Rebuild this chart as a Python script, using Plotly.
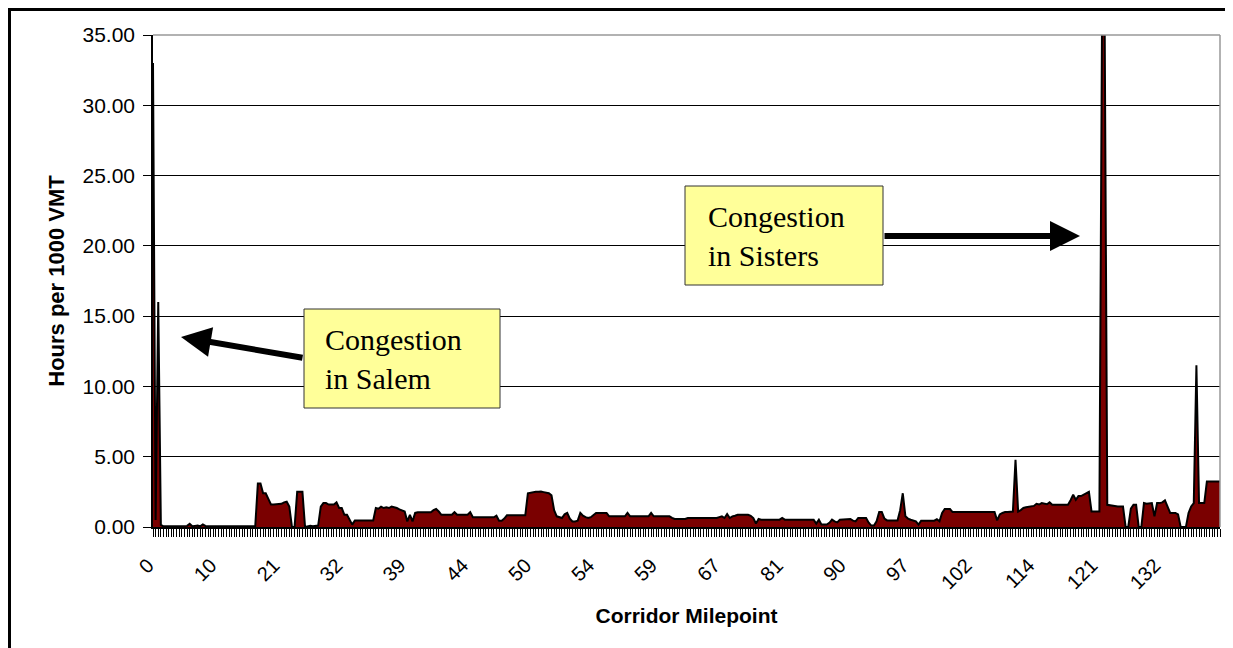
import plotly.graph_objects as go

# Category-axis tick labels (corridor milepoints), one every 24 categories
milepoint_labels = ["0", "10", "21", "32", "39", "44", "50", "54", "59",
                    "67", "81", "90", "97", "102", "114", "121", "132"]
label_step = 24

# Hours per 1000 VMT, one row per labelled block of 24 categories
hours_per_1000_vmt = [
    33.0, 0.5, 16.0, 0.15, 0.05, 0.05, 0.05, 0.05, 0.05, 0.05, 0.05, 0.05,
    0.05, 0.08, 0.22, 0.05, 0.08, 0.1, 0.05, 0.18, 0.08, 0.08, 0.05, 0.1,
    0.05, 0.1, 0.05, 0.08, 0.05, 0.1, 0.05, 0.05, 0.1, 0.05, 0.08, 0.05,
    0.1, 0.05, 0.05, 0.05, 3.1, 3.1, 2.4, 2.4, 2.0, 1.6, 1.6, 1.6,
    1.6, 1.65, 1.75, 1.8, 1.45, 0.0, 0.0, 2.5, 2.5, 2.5, 0.0, 0.05,
    0.08, 0.05, 0.05, 0.1, 1.45, 1.7, 1.7, 1.6, 1.6, 1.6, 1.75, 1.35,
    1.35, 0.87, 0.87, 0.5, 0.17, 0.47, 0.47, 0.47, 0.47, 0.47, 0.47, 0.47,
    0.47, 1.35, 1.3, 1.45, 1.35, 1.4, 1.35, 1.45, 1.42, 1.35, 1.25, 1.15,
    1.1, 0.4, 0.87, 0.4, 1.0, 1.05, 1.05, 1.05, 1.05, 1.05, 1.05, 1.2,
    1.28, 1.1, 0.87, 0.87, 0.87, 0.87, 0.87, 1.05, 0.87, 0.87, 0.87, 0.87,
    0.87, 1.06, 0.69, 0.69, 0.69, 0.69, 0.69, 0.69, 0.69, 0.69, 0.69, 0.8,
    0.45, 0.45, 0.6, 0.83, 0.83, 0.83, 0.83, 0.83, 0.83, 0.83, 0.83, 2.4,
    2.45, 2.48, 2.5, 2.5, 2.52, 2.48, 2.45, 2.4, 2.25, 1.2, 0.76, 0.7,
    0.64, 0.9, 1.0, 0.6, 0.4, 0.4, 0.45, 1.0, 0.8, 0.7, 0.64, 0.7,
    0.85, 1.0, 1.0, 1.0, 1.0, 1.0, 0.76, 0.76, 0.76, 0.76, 0.76, 0.76,
    0.76, 1.0, 0.76, 0.76, 0.76, 0.76, 0.76, 0.76, 0.76, 0.76, 1.0, 0.76,
    0.76, 0.76, 0.76, 0.76, 0.76, 0.76, 0.65, 0.57, 0.57, 0.57, 0.57, 0.57,
    0.64, 0.64, 0.64, 0.64, 0.64, 0.64, 0.64, 0.64, 0.64, 0.64, 0.64, 0.64,
    0.7, 0.76, 0.64, 0.92, 0.64, 0.76, 0.8, 0.87, 0.87, 0.87, 0.87, 0.87,
    0.8, 0.64, 0.24, 0.57, 0.52, 0.52, 0.52, 0.52, 0.52, 0.52, 0.52, 0.52,
    0.64, 0.52, 0.52, 0.52, 0.52, 0.52, 0.52, 0.52, 0.52, 0.52, 0.52, 0.52,
    0.52, 0.24, 0.52, 0.17, 0.17, 0.17, 0.3, 0.52, 0.4, 0.33, 0.52, 0.52,
    0.52, 0.52, 0.57, 0.45, 0.4, 0.64, 0.64, 0.64, 0.64, 0.3, 0.1, 0.1,
    0.4, 1.06, 1.06, 0.6, 0.47, 0.47, 0.47, 0.47, 0.47, 1.2, 2.4, 0.76,
    0.6, 0.52, 0.45, 0.4, 0.17, 0.45, 0.45, 0.45, 0.45, 0.45, 0.45, 0.55,
    0.4, 1.0, 1.28, 1.28, 1.28, 1.06, 1.06, 1.06, 1.06, 1.06, 1.06, 1.06,
    1.06, 1.06, 1.06, 1.06, 1.06, 1.06, 1.06, 1.06, 1.06, 1.06, 0.47, 0.9,
    1.0, 1.06, 1.06, 1.06, 1.1, 4.78, 1.1, 1.2, 1.35, 1.4, 1.45, 1.46,
    1.5, 1.65, 1.6, 1.7, 1.65, 1.62, 1.75, 1.58, 1.58, 1.58, 1.58, 1.58,
    1.58, 1.58, 1.9, 2.3, 1.94, 2.2, 2.2, 2.3, 2.4, 2.5, 1.1, 1.1,
    1.1, 1.1, 36.0, 36.0, 1.58, 1.55, 1.5, 1.46, 1.46, 1.46, 1.46, 0.0,
    0.0, 1.3, 1.58, 1.58, 0.0, 0.0, 1.7, 1.65, 1.7, 1.7, 0.76, 1.7,
    1.7, 1.75, 1.89, 1.4, 1.0, 1.0, 1.0, 0.9, 0.0, 0.0, 0.0, 1.0,
    1.46, 1.7, 11.5, 1.7, 1.7, 1.7, 3.24, 3.24, 3.24, 3.24, 3.24, 3.24,
]

categories = list(range(len(hours_per_1000_vmt)))
tick_text = [milepoint_labels[i // label_step] if i % label_step == 0 else ""
             for i in categories]

# Figure sits at (8, 8) on the page because of the body margin,
# so page pixels are converted with that offset.
OFF = 8
W, H = 1225, 640
L, R, T, B = 145, 13, 27, 121
PW, PH = W - L - R, H - T - B


def px_x(x):
    return (x - OFF - L) / PW


def px_y(y):
    return (H - B - (y - OFF)) / PH


fig = go.Figure(go.Scatter(
    x=categories,
    y=hours_per_1000_vmt,
    mode="lines",
    fill="tozeroy",
    fillcolor="#7a0000",
    line=dict(color="black", width=2),
    hoverinfo="y",
))

fig.update_layout(
    width=W, height=H,
    margin=dict(l=L, r=R, t=T, b=B),
    paper_bgcolor="white",
    plot_bgcolor="white",
    showlegend=False,
    font=dict(family="Arial, Liberation Sans, sans-serif", color="black"),
)

fig.update_xaxes(
    range=[0, len(categories) - 1],
    tickmode="array",
    tickvals=categories,
    ticktext=tick_text,
    tickangle=-45,
    tickfont=dict(size=20),
    ticklabelstandoff=9,
    ticklabelshift=-5,
    ticks="outside", ticklen=8, tickwidth=1, tickcolor="black",
    showgrid=False, zeroline=False,
    showline=True, linecolor="black", linewidth=1.5,
    title=dict(text="<b>Corridor Milepoint</b>", font=dict(size=21), standoff=16),
)

fig.update_yaxes(
    range=[0, 35],
    tickmode="array",
    tickvals=[0, 5, 10, 15, 20, 25, 30, 35],
    tickformat=".2f",
    tickfont=dict(size=21),
    ticks="outside", ticklen=8, tickwidth=1, tickcolor="black",
    ticklabelstandoff=4,
    showgrid=True, gridcolor="black", gridwidth=1,
    zeroline=False,
    showline=True, linecolor="black", linewidth=1.5,
    title=dict(text="<b>Hours per 1000 VMT</b>", font=dict(size=22), standoff=12),
)

shapes = [
    # grey plot-area border, top and right
    dict(type="line", xref="paper", yref="paper", x0=0, x1=1, y0=1, y1=1,
         line=dict(color="#999999", width=1.5)),
    dict(type="line", xref="paper", yref="paper", x0=1, x1=1, y0=0, y1=1,
         line=dict(color="#999999", width=1.5)),
    # outer frame
    dict(type="rect", xref="paper", yref="paper",
         x0=px_x(9.5), x1=px_x(1230), y0=px_y(670), y1=px_y(9.5),
         line=dict(color="black", width=3)),
    # call-out boxes
    dict(type="rect", xref="paper", yref="paper",
         x0=px_x(304), x1=px_x(500), y0=px_y(408), y1=px_y(309),
         fillcolor="#ffff99", line=dict(color="#333333", width=1), layer="above"),
    dict(type="rect", xref="paper", yref="paper",
         x0=px_x(685), x1=px_x(883), y0=px_y(285), y1=px_y(186),
         fillcolor="#ffff99", line=dict(color="#333333", width=1), layer="above"),
]
fig.update_layout(shapes=shapes)

callout_font = dict(family="Times New Roman, Liberation Serif, serif", size=30, color="black")
fig.add_annotation(xref="paper", yref="paper", x=px_x(323), y=px_y(359),
                   xanchor="left", yanchor="middle", align="left", showarrow=False,
                   text="Congestion<br>in Salem", font=callout_font)
fig.add_annotation(xref="paper", yref="paper", x=px_x(706), y=px_y(236),
                   xanchor="left", yanchor="middle", align="left", showarrow=False,
                   text="Congestion<br>in Sisters", font=callout_font)

# Arrows
fig.add_annotation(xref="paper", yref="paper", x=px_x(181), y=px_y(337),
                   ax=123, ay=21, text="", showarrow=True, arrowhead=2,
                   arrowsize=1.0, arrowwidth=6, arrowcolor="black", standoff=0)
fig.add_annotation(xref="paper", yref="paper", x=px_x(1080), y=px_y(236),
                   ax=-197, ay=0, text="", showarrow=True, arrowhead=2,
                   arrowsize=1.0, arrowwidth=6, arrowcolor="black", standoff=0)

fig.write_html("out.html")
